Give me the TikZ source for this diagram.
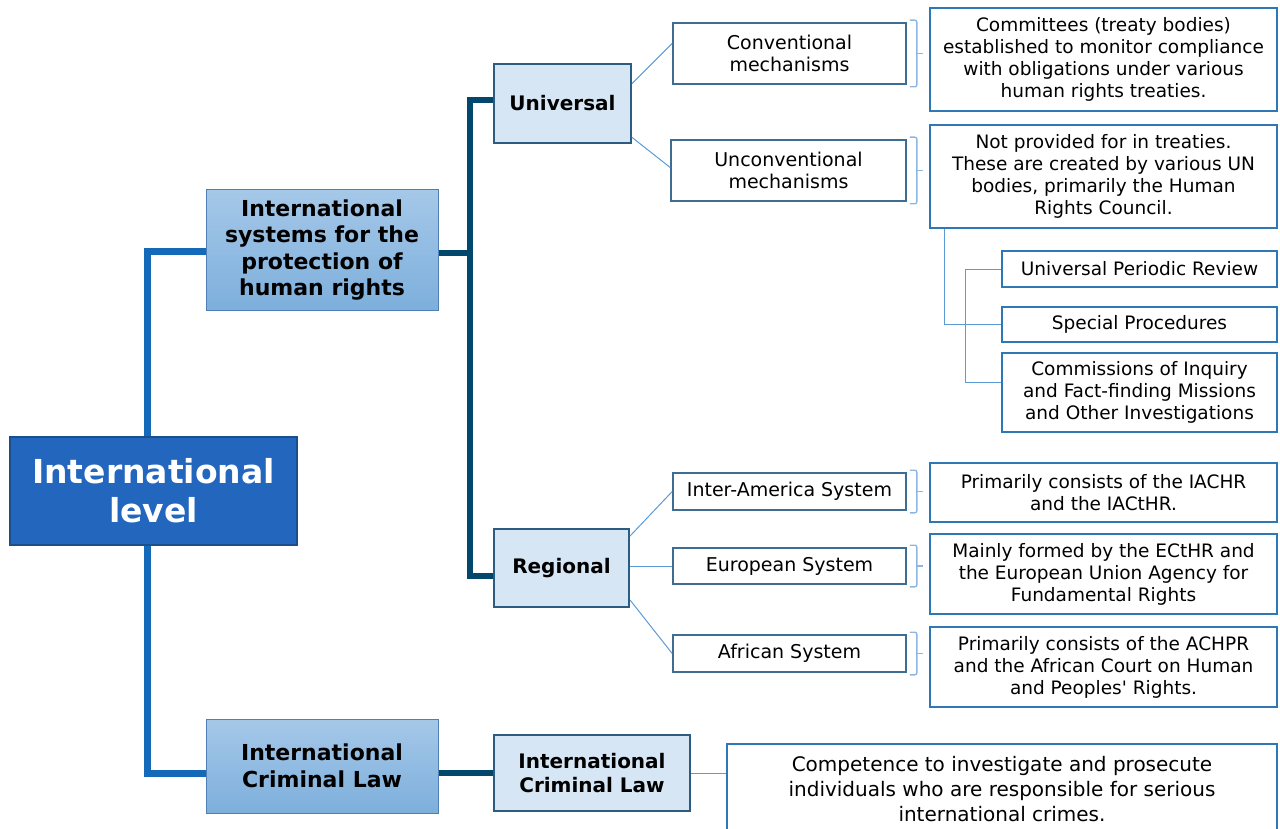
\documentclass[tikz,border=0pt]{standalone}
\usepackage{fontspec}
\setmainfont{DejaVu Sans}
\newfontfamily\plainfam{DejaVu Sans}
\usetikzlibrary{calc}

\definecolor{rootblue}{HTML}{2366BE}
\definecolor{rootedge}{HTML}{1B4F8C}
\definecolor{systop}{HTML}{A5C8E8}
\definecolor{sysbottom}{HTML}{7DAFDC}
\definecolor{sysedge}{HTML}{4F7FB3}
\definecolor{regfill}{HTML}{D6E6F4}
\definecolor{regedge}{HTML}{2C5C82}
\definecolor{mechedge}{HTML}{3E6D94}
\definecolor{noteedge}{HTML}{2E78B5}
\definecolor{trunkblue}{HTML}{1469B8}
\definecolor{darkteal}{HTML}{02486C}
\definecolor{twigblue}{HTML}{5B9BD5}
\definecolor{bracketblue}{HTML}{8FB5E3}

\begin{document}
\begin{tikzpicture}[
  x=1pt, y=-1pt,
  every node/.style={inner sep=0pt, align=center},
  rootbox/.style={draw=rootedge, line width=1.2pt, fill=rootblue, text=white,
    font=\bfseries\fontsize{33}{39}\selectfont},
  sysbox/.style={draw=sysedge, line width=1pt, top color=systop, bottom color=sysbottom,
    font=\bfseries\fontsize{22}{26.5}\selectfont},
  regbox/.style={draw=regedge, line width=2pt, fill=regfill,
    font=\bfseries\fontsize{20}{24}\selectfont},
  mechbox/.style={draw=mechedge, line width=1.6pt, fill=white, minimum width=233pt,
    font=\fontsize{19}{22.5}\selectfont},
  notebox/.style={draw=noteedge, line width=1.4pt, fill=white,
    font=\fontsize{18.5}{22}\selectfont},
  trunk/.style={line width=7pt, draw=trunkblue},
  branch/.style={line width=6pt, draw=darkteal},
  twig/.style={line width=1pt, draw=twigblue},
  bracket/.style={line width=1.4pt, draw=bracketblue, rounded corners=2pt}]
\useasboundingbox (0,0) rectangle (1280,829);

\node[rootbox, minimum width=287pt, minimum height=108pt] (root) at (153.5,491) {International\\level};
\node[sysbox, minimum width=232pt, minimum height=120pt] (sys) at (322,250)
  {International\\systems for the\\protection of\\human rights};
\node[sysbox, minimum width=232pt, minimum height=94pt] (icl1) at (322,766)
  {International\\Criminal Law};

\node[regbox, minimum width=137pt, minimum height=79pt] (univ) at (562.5,103.5) {Universal};
\node[regbox, minimum width=135pt, minimum height=78pt] (regio) at (561.5,568) {Regional};
\node[regbox, minimum width=196pt, minimum height=76pt] (icl2) at (592,773)
  {International\\Criminal Law};

\node[mechbox, minimum height=61pt] (conv) at (789.5,53.5) {Conventional\\mechanisms};
\node[mechbox, minimum height=61pt, minimum width=235pt] (unconv) at (788.5,170.5)
  {Unconventional\\mechanisms};
\node[mechbox, minimum height=37pt] (inter) at (789.5,491.5) {Inter-America System};
\node[mechbox, minimum height=36pt] (euro) at (789.5,566) {European System};
\node[mechbox, minimum height=37pt] (afri) at (789.5,653.5) {African System};

\node[notebox, minimum width=347pt, minimum height=103pt] (treaty) at (1103.5,59.5)
  {Committees (treaty bodies)\\established to monitor compliance\\with obligations under various\\human rights treaties.};
\node[notebox, minimum width=347pt, minimum height=103pt] (charter) at (1103.5,176.5)
  {Not provided for in treaties.\\These are created by various UN\\bodies, primarily the Human\\Rights Council.};
\node[notebox, minimum width=275pt, minimum height=36pt] (upr) at (1139.5,269) {Universal Periodic Review};
\node[notebox, minimum width=275pt, minimum height=35pt] (spec) at (1139.5,324.5) {Special Procedures};
\node[notebox, minimum width=275pt, minimum height=79pt] (coi) at (1139.5,392.5)
  {Commissions of Inquiry\\and Fact-finding Missions\\and Other Investigations};
\node[notebox, minimum width=347pt, minimum height=59pt] (iachr) at (1103.5,492.5)
  {Primarily consists of the IACHR\\and the IACtHR.};
\node[notebox, minimum width=347pt, minimum height=80pt] (ecthr) at (1103.5,574)
  {Mainly formed by the ECtHR and\\the European Union Agency for\\Fundamental Rights};
\node[notebox, minimum width=347pt, minimum height=80pt] (achpr) at (1103.5,667)
  {Primarily consists of the ACHPR\\and the African Court on Human\\and Peoples{\plainfam'} Rights.};
\node[notebox, minimum width=550pt, minimum height=90pt, font=\fontsize{20}{25}\selectfont] (crimes) at (1002,789)
  {Competence to investigate and prosecute\\individuals who are responsible for serious\\international crimes.};

\coordinate (stem) at (147,491);
\coordinate (fork) at (469.5,253);
\draw[trunk] (root.north -| stem) |- ($(sys.west)+(0,2)$);
\draw[trunk] (root.south -| stem) |- ($(icl1.west)+(0,7)$);
\draw[branch] ($(sys.east)+(0,3)$) -- (fork);
\draw[branch] ($(univ.west)+(0,-3)$) -| (fork) |- ($(regio.west)+(0,8)$);
\draw[branch] (icl1.east |- icl2.west) -- (icl2.west);

\draw[twig] (univ.16) -- ($(conv.west)+(0,-10)$);
\draw[twig] (univ.-26) -- ($(unconv.west)+(0,-3)$);
\draw[twig] (regio.25) -- (inter.west);
\draw[twig] (euro.west -| regio.east) -- (euro.west);
\draw[twig] (regio.-25) -- (afri.west);
\draw[twig] (icl2.east) -- (icl2.east -| crimes.west);
\draw[twig] ($(charter.south west)+(15,0)$) |- (spec.west);
\draw[twig] (upr.west) -- ++(-36,0) |- ($(coi.west)+(0,-10)$);

\foreach \m in {conv,unconv,inter,euro,afri} {
  \draw[bracket] ($(\m.north east)+(3,-2)$) -| ($(\m.east)+(10,0)$) |- ($(\m.south east)+(3,2)$);
  \draw[bracket] ($(\m.east)+(10,0)$) -- ++(6,0);
}
\end{tikzpicture}
\end{document}
